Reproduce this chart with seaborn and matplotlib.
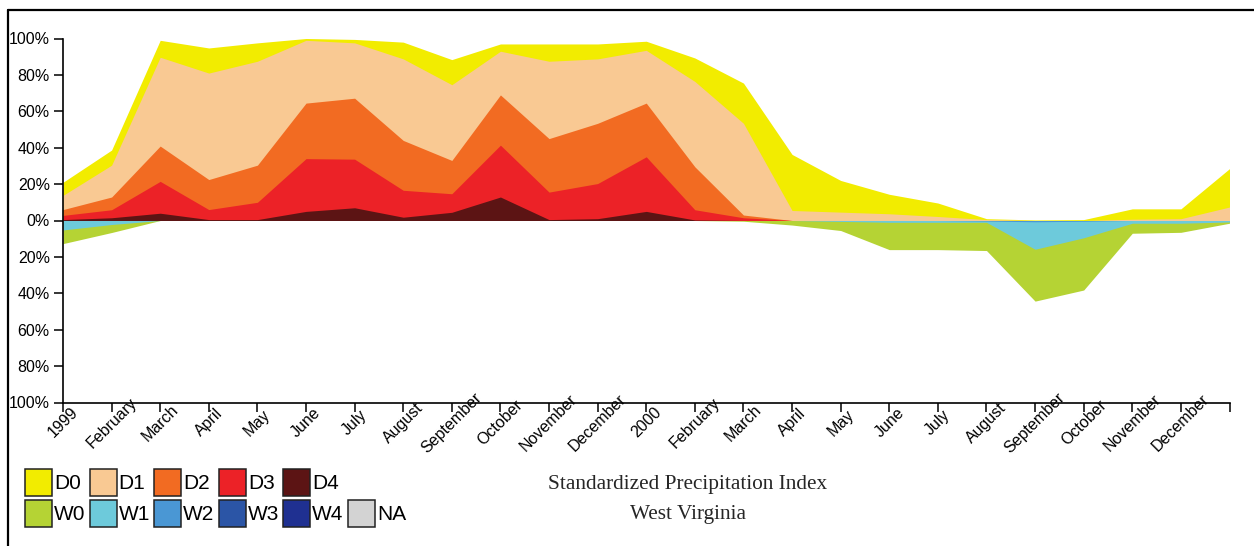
import numpy as np
import pandas as pd
import matplotlib
matplotlib.use("Agg")
import matplotlib.pyplot as plt
from matplotlib.patches import Rectangle
from matplotlib.lines import Line2D
import seaborn as sns

# Monthly points, Jan 1999 .. Jan 2001 (last point unlabeled)
months = ["1999", "February", "March", "April", "May", "June", "July",
          "August", "September", "October", "November", "December",
          "2000", "February", "March", "April", "May", "June", "July",
          "August", "September", "October", "November", "December", ""]

# cumulative % of area in class or worse (dry side)
d0 = [21, 38.7, 99, 94.8, 97.6, 100, 99.5, 98, 88.4, 97, 97, 97, 98.5,
      89.3, 75.5, 36.3, 22, 14.4, 9.6, 1, 0.3, 0.5, 6.4, 6.4, 28.5]
d1 = [13.8, 30.4, 89.7, 81, 87.5, 99, 97.6, 88.8, 74.6, 93, 87.5, 88.8, 93.5,
      76.4, 53.4, 5.5, 4.6, 3.7, 2.2, 0.5, 0, 0, 0.7, 1, 7.4]
d2 = [6, 12.9, 40.9, 22.5, 30.4, 64.5, 67.2, 44, 33, 69, 45, 53.4, 64.5,
      29.5, 3, 0, 0, 0, 0, 0, 0, 0, 0, 0, 0]
d3 = [2.8, 5.9, 21.5, 6, 10, 34, 33.7, 16.6, 14.7, 41.4, 15.6, 20.3, 35,
      5.9, 1.5, 0, 0, 0, 0, 0, 0, 0, 0, 0, 0]
d4 = [0.5, 1.5, 4, 0.5, 0.5, 5, 7, 1.8, 4.5, 12.9, 0.5, 1, 5,
      0.3, 0, 0, 0, 0, 0, 0, 0, 0, 0, 0, 0]
# cumulative % of area in class or wetter (wet side)
w0 = [12.7, 6.6, 0, 0, 0, 0, 0, 0, 0, 0, 0, 0, 0,
      0, 0.4, 2.5, 5.5, 16, 16, 16.5, 44.3, 38.2, 7, 6.5, 1.5]
w1 = [5.2, 2.2, 0, 0, 0, 0, 0, 0, 0, 0, 0, 0, 0,
      0, 0, 0, 0.5, 1, 1, 1, 15.8, 9.5, 1.5, 1.5, 0.8]
w2 = [0, 0, 0, 0, 0, 0, 0, 0, 0, 0, 0, 0, 0,
      0, 0, 0, 0, 0, 0, 0.3, 0.7, 0.4, 0, 0, 0]

legend_row1 = ["D0", "D1", "D2", "D3", "D4"]
legend_row2 = ["W0", "W1", "W2", "W3", "W4", "NA"]

colors = {
    "D0": "#F2EC00", "D1": "#F9C993", "D2": "#F26B22", "D3": "#EC2227",
    "D4": "#5C1414", "W0": "#B5D334", "W1": "#6DCADB", "W2": "#4A97D4",
    "W3": "#2B55A6", "W4": "#1F3091", "NA": "#D3D3D3",
}

df = pd.DataFrame({"D0": d0, "D1": d1, "D2": d2, "D3": d3, "D4": d4,
                   "W0": w0, "W1": w1, "W2": w2})
df["x"] = np.arange(len(months))

sns.set_theme(style="ticks")
plt.rcParams["font.family"] = ["Liberation Sans", "DejaVu Sans"]

W, H = 1254, 546
fig = plt.figure(figsize=(W / 100, H / 100), dpi=100)
ax = fig.add_axes([63 / W, 1 - 402.5 / H, (1229.5 - 63) / W, 364 / H])

# outermost class first, inner classes painted over it
for col in ["D0", "D1", "D2", "D3", "D4"]:
    ax.fill_between(df["x"], 0, df[col], color=colors[col], lw=0)
for col in ["W0", "W1", "W2"]:
    ax.fill_between(df["x"], 0, -df[col], color=colors[col], lw=0)

ax.set_xlim(0, len(months) - 1)
ax.set_ylim(-100, 100)
yt = np.arange(-100, 101, 20)
ax.set_yticks(yt)
ax.set_yticklabels([f"{abs(v)}%" for v in yt], fontsize=11.5)
ax.set_xticks(df["x"])
ax.set_xticklabels(months, rotation=45, ha="center", va="center",
                   rotation_mode="anchor", fontsize=11.5)
ax.tick_params(axis="both", direction="out", length=6.5, width=1.1,
               color="black", labelcolor="black", bottom=True, left=True)
ax.tick_params(axis="x", pad=8)
ax.tick_params(axis="y", pad=3)
sns.despine(ax=ax)
for s in ["left", "bottom"]:
    ax.spines[s].set_color("black")
    ax.spines[s].set_linewidth(1.2)
ax.set_xlabel("")
ax.set_ylabel("")


def fx(px):
    return px / W


def fy(py):
    return 1 - py / H


# legend: two rows of swatches
for row, names in ((469, legend_row1), (500, legend_row2)):
    for i, name in enumerate(names):
        x0 = 25 + i * 64.6
        fig.add_artist(Rectangle((fx(x0), fy(row + 27)), 27 / W, 27 / H,
                                 transform=fig.transFigure,
                                 facecolor=colors[name], edgecolor="#222222",
                                 lw=1.1))
        fig.text(fx(x0 + 29), fy(row + 14.5), name, ha="left", va="center",
                 fontsize=15, color="black")

serif = ["Liberation Serif", "DejaVu Serif"]
fig.text(fx(687.5), fy(484), "Standardized Precipitation Index",
         ha="center", va="center", fontsize=15.3, family=serif)
fig.text(fx(687.5), fy(514), "West Virginia",
         ha="center", va="center", fontsize=15.3, family=serif)

# frame lines along top and left edges
fig.add_artist(Line2D([fx(8), 1], [fy(10), fy(10)], color="black", lw=1.6,
                      transform=fig.transFigure))
fig.add_artist(Line2D([fx(8), fx(8)], [0, fy(10)], color="black", lw=1.6,
                      transform=fig.transFigure))

fig.savefig("out.png", dpi=100)
